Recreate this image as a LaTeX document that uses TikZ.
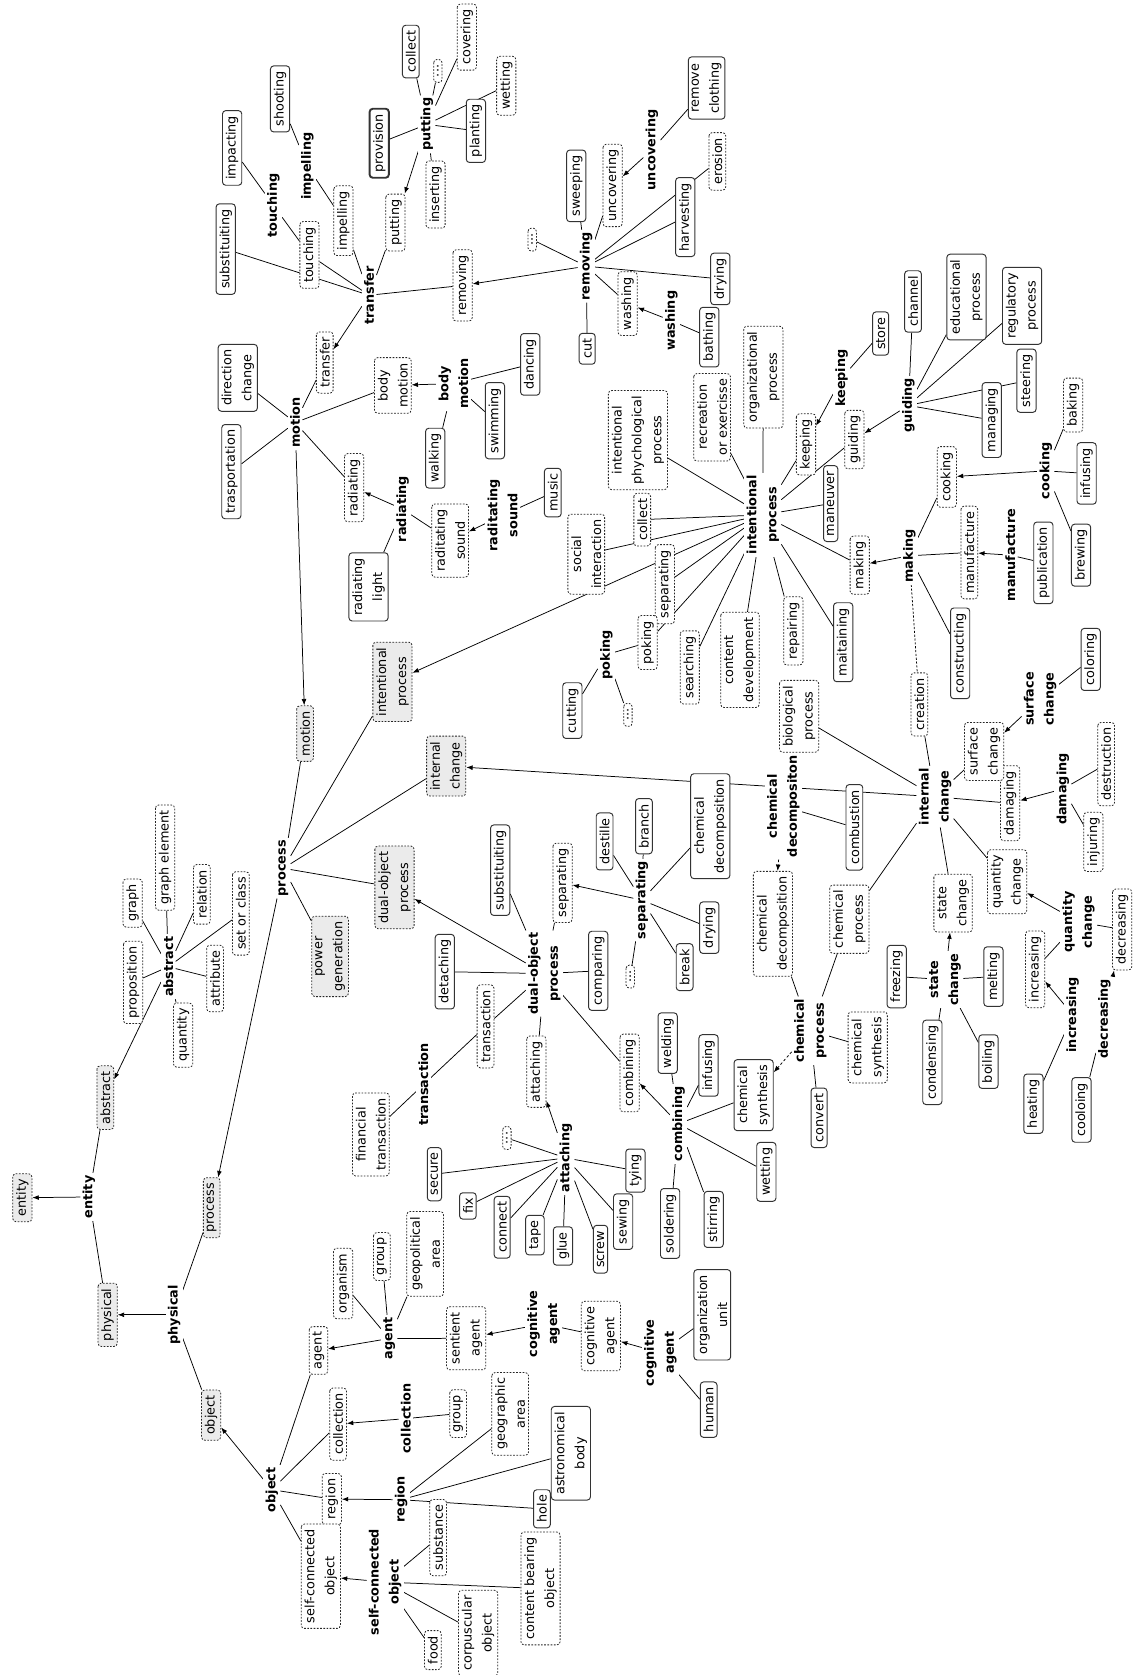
\documentclass[tikz,border=0pt]{standalone}
\usepackage{fontspec}
\setmainfont{DejaVu Sans}
\usetikzlibrary{arrows.meta,backgrounds}
\newcommand\dgfont{\fontsize{12}{18.7}\selectfont}
\newcommand\dgbold{\fontsize{12}{18.7}\selectfont\bfseries}
\tikzset{
 nbase/.style={rotate=90, align=center, font=\dgfont, inner xsep=5pt, inner ysep=3.2pt, rounded corners=3pt},
 ref/.style={nbase, draw=black!85, line width=0.75pt, dash pattern=on 1.6pt off 1.4pt, fill=white},
 top/.style={ref, fill=black!8},
 leaf/.style={nbase, draw=black!80, line width=0.9pt, fill=white},
 thick leaf/.style={leaf, line width=1.8pt},
 head/.style={rotate=90, align=center, font=\dgbold, inner sep=2pt, fill=white},
 ln/.style={line width=0.7pt},
 arr/.style={ln, -{Latex[length=6pt,width=4.5pt]}},
 darr/.style={arr, dash pattern=on 2.5pt off 2pt},
 dln/.style={ln, dash pattern=on 2pt off 1.6pt},
}
\begin{document}
\begin{tikzpicture}[x=1pt,y=-1pt]
\useasboundingbox (0,0) rectangle (1062,1568);
% ---------- root ----------
\node[top] (entB) at (20.9,1121.2) {entity};
\node[head] (entH) at (83.3,1120.5) {entity};
\node[top] (absB) at (98.6,1027.5) {abstract};
\node[top] (phyB) at (100.8,1230.8) {physical};
\node[head] (phyH) at (163,1230.8) {physical};
\node[top] (prcB) at (198.2,1130.6) {process};
\node[top] (objB) at (197.6,1324.7) {object};
\node[head] (absH) at (157.6,905) {abstract};
\node[ref] (graph) at (124.2,845.4) {graph};
\node[ref] (graphel) at (154.5,802.8) {graph element};
\node[ref] (relation) at (188.9,837.2) {relation};
\node[ref] (setcls) at (225.4,855.1) {set or class};
\node[ref] (attrib) at (201.3,916) {attribute};
\node[ref] (quant) at (171.4,969) {quantity};
\node[ref] (propos) at (124.6,919.6) {proposition};
\node[head] (prcH) at (265.3,812.8) {process};
\node[top] (motB) at (285.6,686.7) {motion};
\node[top] (ipB) at (367.4,638.3) {intentional\\process};
\node[top] (icB) at (417.7,717.1) {internal\\change};
\node[top] (dopB) at (369.3,830.7) {dual-object\\process};
\node[top] (pgB) at (309,895.3) {power\\generation};
% ---------- motion ----------
\node[head] (motH) at (276.3,395.6) {motion};
\node[leaf] (trasp) at (216.6,441.5) {trasportation};
\node[leaf] (dirch) at (222.6,353.7) {direction\\change};
\node[ref] (trfB) at (304,339.4) {transfer};
\node[ref] (bmB) at (367.7,360.8) {body\\motion};
\node[ref] (radB) at (331.5,456.5) {radiating};
\node[head] (trfH) at (345.6,276.4) {transfer};
\node[leaf] (subst1) at (211.3,233.2) {substituiting};
\node[ref] (touB) at (289.7,238.6) {touching};
\node[ref] (impB) at (321.5,206.6) {impelling};
\node[ref] (putB) at (370.2,208.3) {putting};
\node[ref] (remB) at (433,267.2) {removing};
\node[head] (touH) at (256,192.3) {touching};
\node[leaf] (impact) at (217.3,138.5) {impacting};
\node[head] (impH) at (287.8,155.6) {impelling};
\node[leaf] (shoot) at (262.2,92.6) {shooting};
\node[head] (putH) at (399.6,116.4) {putting};
\node[thick leaf] (provis) at (355,134.1) {provision};
\node[leaf] (collect1) at (384.6,48.3) {collect};
\node[ref] (dots1) at (409.9,66.4) {...};
\node[ref] (cover) at (437,34.7) {covering};
\node[ref] (wet1) at (473.9,80.3) {wetting};
\node[leaf] (plant) at (445.5,122.5) {planting};
\node[ref] (insert) at (407.7,182.1) {inserting};
\node[head] (remH) at (548.8,249.2) {removing};
\node[ref] (dots2) at (498.2,224.3) {...};
\node[leaf] (sweep) at (539.4,174) {sweeping};
\node[ref] (uncB) at (573.5,173.6) {uncovering};
\node[head] (uncH) at (610.3,140.2) {uncovering};
\node[leaf] (remcl) at (661.5,82.4) {remove\\clothing};
\node[ref] (erosion) at (671.5,151.1) {erosion};
\node[leaf] (harvest) at (641.5,203.2) {harvesting};
\node[leaf] (dry1) at (674.3,261.1) {drying};
\node[ref] (washB) at (587.5,284.2) {washing};
\node[head] (washH) at (628.4,300.2) {washing};
\node[leaf] (bath) at (664,315.6) {bathing};
\node[leaf] (cut) at (549.7,326.5) {cut};
\node[head] (bmH) at (424.5,359.1) {body\\motion};
\node[leaf] (dance) at (496.3,341.1) {dancing};
\node[leaf] (swim) at (463.3,393.8) {swimming};
\node[leaf] (walk) at (407.4,428.9) {walking};
\node[head] (radH) at (376.8,476.6) {radiating};
\node[leaf] (radlight) at (345,549.4) {radiating\\light};
\node[ref] (rsB) at (421.4,506) {raditating\\sound};
\node[head] (rsH) at (470.4,482.4) {raditating\\sound};
\node[leaf] (music) at (517.5,461.1) {music};
% ---------- intentional process ----------
\node[head] (ipH) at (714,482) {intentional\\process};
\node[ref] (ipp) at (597.2,412) {intentional\\phychological\\process};
\node[ref] (recr) at (666.6,390.6) {recreation\\or exercisse};
\node[ref] (orgp) at (714.6,353) {organizational\\process};
\node[ref] (keepB) at (754.5,416) {keeping};
\node[head] (keepH) at (787.9,354) {keeping};
\node[leaf] (store) at (824.4,312.2) {store};
\node[ref] (guidB) at (799.8,411.5) {guiding};
\node[head] (guidH) at (850.4,379.5) {guiding};
\node[leaf] (channel) at (854.7,282.2) {channel};
\node[leaf] (edup) at (904.7,278.1) {educational\\process};
\node[leaf] (regp) at (956.8,286.3) {regulatory\\process};
\node[leaf] (manag) at (928.4,393.2) {managing};
\node[leaf] (steer) at (960.9,356.4) {steering};
\node[leaf] (maneuv) at (777.6,471.4) {maneuver};
\node[ref] (makB) at (804.8,529.1) {making};
\node[head] (makH) at (851.2,520.3) {making};
\node[ref] (cookB) at (886.3,446.5) {cooking};
\node[head] (cookH) at (979,440.8) {cooking};
\node[ref] (bake) at (1004.6,379.2) {baking};
\node[leaf] (infus1) at (1017.2,443.2) {infusing};
\node[leaf] (brew) at (1012,519.7) {brewing};
\node[ref] (manuB) at (907.4,517.2) {manufacture};
\node[head] (manuH) at (945.8,519.7) {manufacture};
\node[leaf] (publ) at (976.7,526.9) {publication};
\node[leaf] (constr) at (898.8,611.6) {constructing};
\node[ref] (creat) at (860.7,659.4) {creation};
\node[leaf] (maint) at (789.3,601.2) {maitaining};
\node[ref] (repair) at (742.6,590.6) {repairing};
\node[ref] (contdev) at (692.7,617.7) {content\\development};
\node[ref] (search) at (645.7,624.8) {searching};
\node[ref] (sep1) at (622.4,546.9) {separating};
\node[ref] (pokB) at (606.3,601.5) {poking};
\node[head] (pokH) at (567.6,612.8) {poking};
\node[leaf] (cutting) at (535.8,665.2) {cutting};
\node[ref] (dots3) at (587.8,669.2) {...};
\node[ref] (coll2) at (601.2,486.4) {collect};
\node[ref] (social) at (548.8,518.8) {social\\interaction};
% ---------- internal change ----------
\node[head] (icH) at (875.3,745.8) {internal\\change};
\node[ref] (biol) at (748,670.5) {biological\\process};
\node[head] (cdecH) at (733.3,754.8) {chemical\\decompositon};
\node[leaf] (comb) at (799.8,774.5) {combustion};
\node[leaf] (cdecS) at (664.9,773.4) {chemical\\decomposition};
\node[ref] (cdecR) at (723.6,864.8) {chemical\\decomposition};
\node[ref] (cprocR) at (795.1,860.5) {chemical\\process};
\node[head] (cprocH) at (758.5,964.8) {chemical\\process};
\node[ref] (csynR) at (812.3,980.5) {chemical\\synthesis};
\node[leaf] (csynS) at (705.5,1025.2) {chemical\\synthesis};
\node[leaf] (convert) at (766.7,1046.4) {convert};
\node[ref] (stB) at (892.2,845.4) {state\\change};
\node[head] (stH) at (884.7,917) {state\\change};
\node[leaf] (freez) at (839.4,914.2) {freezing};
\node[leaf] (melt) at (930,914.2) {melting};
\node[leaf] (conden) at (872.8,994.5) {condensing};
\node[leaf] (boil) at (925.3,993.8) {boiling};
\node[ref] (qcB) at (942.8,825.4) {quantity\\change};
\node[head] (qcH) at (1009.6,863) {quantity\\change};
\node[ref] (decrB) at (1050.5,870.1) {decreasing};
\node[ref] (incrB) at (969,907.4) {increasing};
\node[head] (incrH) at (1004.2,950.1) {increasing};
\node[head] (decrH) at (1033.9,953.6) {decreasing};
\node[leaf] (heat) at (967.4,1033.2) {heating};
\node[leaf] (cool) at (1012.4,1039) {cooloing};
\node[ref] (dmgB) at (945.6,751.9) {damaging};
\node[head] (dmgH) at (994.9,738.6) {damaging};
\node[ref] (destr) at (1035.5,715.3) {destruction};
\node[ref] (injur) at (1023.6,788.1) {injuring};
\node[ref] (sfB) at (921.2,703.5) {surface\\change};
\node[head] (sfH) at (973.7,654.4) {surface\\change};
\node[leaf] (color) at (1021,617.3) {coloring};
% ---------- dual-object process ----------
\node[head] (dopH) at (509.5,911.4) {dual-object\\process};
\node[leaf] (detach) at (416.4,909.6) {detaching};
\node[ref] (transB) at (454.5,960.8) {transaction};
\node[head] (transH) at (396.4,1015.3) {transaction};
\node[ref] (fintr) at (347.1,1062) {financial\\transaction};
\node[ref] (attB) at (502.1,1003.2) {attaching};
\node[leaf] (subst2) at (468.2,814.6) {substituiting};
\node[leaf] (compar) at (560,908.8) {comparing};
\node[ref] (sep2) at (526.6,826.4) {separating};
\node[ref] (combB) at (589.4,1004.4) {combining};
\node[head] (sepH) at (600.9,842.6) {separating};
\node[ref] (dots4) at (590,914.2) {...};
\node[leaf] (destil) at (566,787.7) {destille};
\node[leaf] (branch) at (602.8,773.4) {branch};
\node[leaf] (break) at (640.9,905.3) {break};
\node[leaf] (dry2) at (664,868.4) {drying};
\node[head] (attH) at (529.8,1084) {attaching};
\node[ref] (dots5) at (474.5,1065.3) {...};
\node[leaf] (secure) at (406.7,1099.2) {secure};
\node[leaf] (fix) at (438,1128.9) {fix};
\node[leaf] (connect) at (470.1,1148.8) {connect};
\node[leaf] (tape) at (500.8,1156.2) {tape};
\node[leaf] (glue) at (527,1166.4) {glue};
\node[leaf] (screw) at (562.2,1169.4) {screw};
\node[leaf] (sewing) at (583.3,1143.6) {sewing};
\node[leaf] (tying) at (594.8,1095.8) {tying};
\node[head] (combH) at (635.2,1052) {combining};
\node[leaf] (weld) at (625,976.5) {welding};
\node[leaf] (infus2) at (663.3,997.4) {infusing};
\node[leaf] (wet2) at (717.4,1097) {wetting};
\node[leaf] (solder) at (627.3,1145.3) {soldering};
\node[leaf] (stir) at (668.1,1141.5) {stirring};
% ---------- object ----------
\node[ref] (agentB) at (298.1,1264.2) {agent};
\node[ref] (collB) at (316.5,1333.1) {collection};
\node[ref] (regB) at (310.6,1403.3) {region};
\node[ref] (scoB) at (300.3,1475.5) {self-connected\\object};
\node[head] (objH) at (254.4,1394.5) {object};
\node[head] (agentH) at (364.3,1253) {agent};
\node[ref] (organism) at (321.2,1201.5) {organism};
\node[ref] (group1) at (357.5,1176.2) {group};
\node[ref] (geopol) at (398,1173.8) {geopolitical\\area};
\node[ref] (sentag) at (436.4,1252.8) {sentient\\agent};
\node[head] (cogH1) at (508.8,1239.3) {cognitive\\agent};
\node[ref] (cogB) at (562.5,1250.7) {cognitive\\agent};
\node[head] (cogH2) at (618.1,1266.3) {cognitive\\agent};
\node[leaf] (orgunit) at (666.8,1230.8) {organization\\unit};
\node[leaf] (human) at (663.4,1319.6) {human};
\node[head] (collH) at (379.9,1328) {collection};
\node[ref] (group2) at (428.9,1323.3) {group};
\node[head] (regH) at (375.5,1403.9) {region};
\node[ref] (geog) at (477.6,1323.6) {geographic\\area};
\node[leaf] (astro) at (534.4,1360.4) {astronomical\\body};
\node[leaf] (hole) at (507.3,1412.4) {hole};
\node[head] (scoH) at (360.6,1481) {self-connected\\object};
\node[ref] (substance) at (410.2,1439.4) {substance};
\node[ref] (contb) at (506,1487) {content bearing\\object};
\node[ref] (food) at (405.2,1544.7) {food};
\node[ref] (corpus) at (447.6,1528.8) {corpuscular\\object};
% ---------- connectors ----------
\begin{scope}[on background layer]
\fill[white] (0,0) rectangle (1062,1568);
% arrows
\foreach \a/\b in {entH/entB, absH/absB, phyH/phyB, prcH/prcB, objH/objB, motH/motB, trfH/trfB, putH/putB, remH/remB, uncH/uncB, washH/washB, bmH/bmB, radH/radB, rsH/rsB, ipH/ipB, keepH/keepB, guidH/guidB, makH/makB, cookH/cookB, manuH/manuB, icH/icB, sfH/sfB, dmgH/dmgB, qcH/qcB, incrH/incrB, decrH/decrB, stH/stB, dopH/dopB, attH/attB, combH/combB, sepH/sep2, agentH/agentB, cogH1/sentag, cogH2/cogB, collH/collB, regH/regB, scoH/scoB}
  \draw[arr] (\a) -- (\b);
\draw[darr] (cdecH) -- (cdecR);
\draw[darr] (cprocH) -- (csynS);
\draw[dln] (makH) -- (creat);
% plain lines
\foreach \a/\b in {entH/absB, entH/phyB,
 absH/graph, absH/graphel, absH/relation, absH/setcls, absH/attrib, absH/quant, absH/propos,
 phyH/prcB, phyH/objB,
 prcH/motB, prcH/ipB, prcH/icB, prcH/dopB, prcH/pgB,
 motH/trasp, motH/dirch, motH/trfB, motH/bmB, motH/radB,
 trfH/subst1, trfH/touB, trfH/impB, trfH/putB, trfH/remB,
 touH/touB, touH/impact, impH/impB, impH/shoot,
 putH/provis, putH/collect1, putH/dots1, putH/cover, putH/wet1, putH/plant, putH/insert,
 remH/dots2, remH/sweep, remH/uncB, remH/harvest, remH/erosion, remH/dry1, remH/washB, remH/cut,
 uncH/remcl, washH/bath,
 bmH/walk, bmH/swim, bmH/dance,
 radH/radlight, radH/rsB, rsH/music,
 ipH/ipp, ipH/recr, ipH/orgp, ipH/keepB, ipH/guidB, ipH/maneuv, ipH/makB, ipH/maint, ipH/repair, ipH/contdev, ipH/search, ipH/sep1, ipH/pokB, ipH/social, ipH/coll2,
 keepH/store,
 guidH/channel, guidH/edup, guidH/regp, guidH/manag, guidH/steer,
 makH/cookB, makH/manuB, makH/constr,
 cookH/bake, cookH/infus1, cookH/brew, manuH/publ,
 pokH/pokB, pokH/cutting, pokH/dots3,
 icH/biol, icH/creat, icH/sfB, icH/dmgB, icH/qcB, icH/stB, icH/cprocR,
 cdecH/comb,
 cprocH/cdecR, cprocH/cprocR, cprocH/csynR, cprocH/convert,
 sfH/color, dmgH/destr, dmgH/injur,
 qcH/incrB, qcH/decrB, incrH/heat, decrH/cool,
 stH/freez, stH/melt, stH/conden, stH/boil,
 dopH/detach, dopH/transB, dopH/attB, dopH/subst2, dopH/sep2, dopH/compar, dopH/combB,
 transH/transB, transH/fintr,
 sepH/dots4, sepH/destil, sepH/branch, sepH/break, sepH/dry2, sepH/cdecS,
 attH/dots5, attH/secure, attH/fix, attH/connect, attH/tape, attH/glue, attH/screw, attH/sewing, attH/tying,
 combH/weld, combH/infus2, combH/csynS, combH/wet2, combH/stir, combH/solder,
 objH/agentB, objH/collB, objH/regB, objH/scoB,
 agentH/organism, agentH/group1, agentH/geopol, agentH/sentag,
 cogH1/cogB, cogH2/orgunit, cogH2/human,
 collH/group2,
 regH/geog, regH/astro, regH/hole,
 scoH/substance, scoH/contb, scoH/corpus, scoH/food}
  \draw[ln] (\a) -- (\b);
\end{scope}
\end{tikzpicture}
\end{document}
